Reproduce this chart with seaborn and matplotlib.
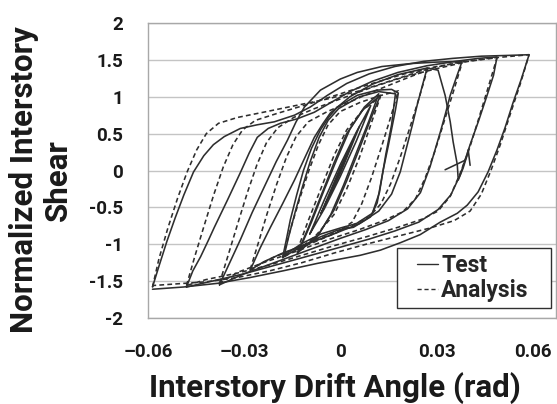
import pandas as pd
import seaborn as sns
import matplotlib.pyplot as plt
from matplotlib.lines import Line2D
from matplotlib.legend_handler import HandlerLine2D

# Axis ticks
y_ticks = [-2, -1.5, -1, -0.5, 0, 0.5, 1, 1.5, 2]
y_labels = ['-2', '-1.5', '-1', '-0.5', '0', '0.5', '1', '1.5', '2']
x_ticks = [-0.06, -0.03, 0, 0.03, 0.06]
x_labels = ['\u20130.06', '\u20130.03', '0', '0.03', '0.06']

# Test loops (drift in rad, normalized shear)
# each loop: positive-going branch then negative-going branch
test_06_drift = [-0.0586, -0.0566, -0.0541, -0.0515, -0.0488, -0.0458, -0.0426, -0.0396, -0.0362, -0.0312,
                 -0.0259, -0.0206, -0.0143, -0.0094, -0.0040, 0.0020, 0.0090, 0.0170, 0.0260, 0.0350,
                 0.0440, 0.0520, 0.0589, 0.0564, 0.0539, 0.0514, 0.0489, 0.0461, 0.0430, 0.0396,
                 0.0365, 0.0312, 0.0249, 0.0187, 0.0125, 0.0062, 0.0000, -0.0072, -0.0178, -0.0280,
                 -0.0383, -0.0490, -0.0586]
test_06_shear = [-1.58, -1.30, -0.96, -0.64, -0.33, -0.02, 0.20, 0.35, 0.46, 0.57,
                 0.62, 0.66, 0.75, 0.86, 1.02, 1.18, 1.31, 1.41, 1.48, 1.52,
                 1.55, 1.56, 1.57, 1.23, 0.92, 0.58, 0.28, -0.02, -0.29, -0.47,
                 -0.58, -0.70, -0.87, -0.98, -1.08, -1.15, -1.20, -1.26, -1.36, -1.45,
                 -1.53, -1.58, -1.61]

test_05_drift = [-0.0480, -0.0460, -0.0436, -0.0412, -0.0393, -0.0352, -0.0312, -0.0284, -0.0259, -0.0225,
                 -0.0187, -0.0135, -0.0081, -0.0030, 0.0030, 0.0100, 0.0180, 0.0270, 0.0360, 0.0430,
                 0.0489, 0.0478, 0.0458, 0.0432, 0.0405, 0.0374, 0.0345, 0.0305, 0.0245, 0.0170,
                 0.0090, 0.0000, -0.0100, -0.0200, -0.0300, -0.0400, -0.0480]
test_05_shear = [-1.58, -1.36, -1.17, -0.95, -0.77, -0.40, -0.03, 0.24, 0.45, 0.57,
                 0.64, 0.70, 0.79, 0.92, 1.07, 1.21, 1.33, 1.42, 1.48, 1.52,
                 1.54, 1.29, 1.02, 0.68, 0.35, -0.06, -0.33, -0.53, -0.70, -0.82,
                 -0.93, -1.04, -1.16, -1.28, -1.40, -1.50, -1.58]

test_04_drift = [-0.0377, -0.0345, -0.0312, -0.0275, -0.0237, -0.0200, -0.0165, -0.0138, -0.0112, -0.0062,
                 0.0000, 0.0053, 0.0130, 0.0220, 0.0300, 0.0380, 0.0362, 0.0343, 0.0328, 0.0312,
                 0.0280, 0.0250, 0.0210, 0.0150, 0.0080, 0.0000, -0.0100, -0.0200, -0.0300, -0.0377]
test_04_shear = [-1.55, -1.25, -0.94, -0.57, -0.22, 0.12, 0.41, 0.66, 0.86, 1.09,
                 1.24, 1.33, 1.41, 1.45, 1.47, 1.48, 1.26, 1.02, 0.77, 0.52,
                 0.05, -0.30, -0.52, -0.68, -0.80, -0.92, -1.08, -1.24, -1.40, -1.55]

test_03_drift = [-0.0281, -0.0250, -0.0218, -0.0180, -0.0143, -0.0110, -0.0081, -0.0055, -0.0031, 0.0030,
                 0.0100, 0.0180, 0.0271, 0.0256, 0.0240, 0.0225, 0.0209, 0.0187, 0.0160, 0.0120,
                 0.0060, -0.0020, -0.0100, -0.0180, -0.0240, -0.0281]
test_03_shear = [-1.35, -1.05, -0.77, -0.45, -0.13, 0.18, 0.45, 0.63, 0.78, 1.00,
                 1.17, 1.30, 1.39, 1.15, 0.89, 0.62, 0.35, -0.02, -0.32, -0.55,
                 -0.72, -0.86, -0.99, -1.12, -1.24, -1.35]

test_02_drift = [-0.0180, -0.0168, -0.0156, -0.0136, -0.0115, -0.0090, -0.0062, -0.0035, -0.0009, 0.0053,
                 0.0115, 0.0160, 0.0181, 0.0172, 0.0150, 0.0134, 0.0115, 0.0094, 0.0041, -0.0009,
                 -0.0062, -0.0125, -0.0180]
test_02_shear = [-1.18, -0.93, -0.67, -0.33, 0.00, 0.30, 0.55, 0.73, 0.86, 1.02,
                 1.09, 1.10, 1.05, 0.82, 0.34, 0.01, -0.44, -0.63, -0.77, -0.81,
                 -0.90, -1.04, -1.18]

test_02b_drift = [-0.0175, -0.0160, -0.0140, -0.0118, -0.0094, -0.0066, -0.0038, -0.0005, 0.0060, 0.0120,
                  0.0172, 0.0160, 0.0142, 0.0122, 0.0100, 0.0050, 0.0000, -0.0060, -0.0120, -0.0175]
test_02b_shear = [-1.15, -0.88, -0.55, -0.22, 0.12, 0.45, 0.68, 0.84, 1.00, 1.07,
                  1.04, 0.62, 0.22, -0.30, -0.58, -0.72, -0.78, -0.86, -0.99, -1.15]

test_01_drift = [-0.0134, -0.0100, -0.0060, -0.0020, 0.0020, 0.0070, 0.0125,
                 0.0095, 0.0060, 0.0020, -0.0020, -0.0070, -0.0134]
test_01_shear = [-1.12, -0.78, -0.34, 0.10, 0.50, 0.82, 1.02,
                 0.70, 0.30, -0.14, -0.54, -0.88, -1.12]

test_01b_drift = [-0.0128, -0.0090, -0.0050, -0.0010, 0.0030, 0.0075, 0.0120,
                  0.0090, 0.0050, 0.0010, -0.0030, -0.0075, -0.0128]
test_01b_shear = [-1.08, -0.70, -0.26, 0.16, 0.56, 0.86, 1.04,
                  0.68, 0.24, -0.20, -0.60, -0.92, -1.08]

test_0075_drift = [-0.0095, -0.0050, 0.0000, 0.0050, 0.0095, 0.0050, 0.0000, -0.0050, -0.0095]
test_0075_shear = [-0.86, -0.40, 0.08, 0.52, 0.88, 0.40, -0.08, -0.52, -0.86]

test_005_drift = [-0.0060, 0.0000, 0.0060, 0.0000, -0.0060]
test_005_shear = [-0.58, 0.04, 0.60, -0.04, -0.58]

test_0025_drift = [-0.0030, 0.0000, 0.0030, 0.0000, -0.0030]
test_0025_shear = [-0.32, 0.02, 0.32, -0.02, -0.32]

# odd excursion near +0.04 in the test record
test_spike_drift = [0.0271, 0.0305, 0.0327, 0.0343, 0.0352, 0.0365, 0.0368, 0.0383, 0.0396, 0.0399, 0.0405]
test_spike_shear = [1.39, 1.36, 1.02, 0.66, 0.39, 0.08, -0.13, 0.03, 0.21, 0.28, 0.07]
test_bar_drift = [0.0327, 0.0390]
test_bar_shear = [0.01, 0.14]

# Analysis loops
ana_06_drift = [-0.0586, -0.0566, -0.0538, -0.0508, -0.0478, -0.0448, -0.0418, -0.0380, -0.0320, -0.0240,
                -0.0140, -0.0040, 0.0060, 0.0160, 0.0260, 0.0360, 0.0460, 0.0589, 0.0562, 0.0530,
                0.0500, 0.0470, 0.0440, 0.0405, 0.0355, 0.0280, 0.0180, 0.0080, -0.0020, -0.0120,
                -0.0220, -0.0320, -0.0420, -0.0586]
ana_06_shear = [-1.58, -1.20, -0.78, -0.38, -0.02, 0.28, 0.50, 0.64, 0.72, 0.79,
                0.88, 0.97, 1.08, 1.22, 1.36, 1.46, 1.52, 1.57, 1.18, 0.76,
                0.36, 0.00, -0.32, -0.55, -0.68, -0.78, -0.89, -1.00, -1.12, -1.25,
                -1.36, -1.45, -1.51, -1.56]

ana_05_drift = [-0.0480, -0.0455, -0.0425, -0.0395, -0.0365, -0.0335, -0.0305, -0.0265, -0.0200, -0.0100,
                0.0000, 0.0100, 0.0200, 0.0300, 0.0400, 0.0489, 0.0463, 0.0433, 0.0403, 0.0373,
                0.0343, 0.0305, 0.0255, 0.0180, 0.0080, -0.0020, -0.0120, -0.0220, -0.0320, -0.0420,
                -0.0480]
ana_05_shear = [-1.56, -1.18, -0.75, -0.33, 0.05, 0.35, 0.55, 0.68, 0.77, 0.90,
                1.04, 1.18, 1.31, 1.41, 1.48, 1.53, 1.15, 0.72, 0.30, -0.05,
                -0.35, -0.55, -0.66, -0.77, -0.90, -1.02, -1.15, -1.28, -1.39, -1.48,
                -1.56]

ana_04_drift = [-0.0377, -0.0350, -0.0320, -0.0290, -0.0260, -0.0230, -0.0195, -0.0145, -0.0080, 0.0000,
                0.0100, 0.0200, 0.0300, 0.0380, 0.0355, 0.0325, 0.0295, 0.0265, 0.0235, 0.0195,
                0.0135, 0.0060, -0.0040, -0.0140, -0.0240, -0.0320, -0.0377]
ana_04_shear = [-1.53, -1.15, -0.72, -0.30, 0.08, 0.38, 0.58, 0.72, 0.84, 0.97,
                1.13, 1.27, 1.38, 1.46, 1.10, 0.68, 0.26, -0.10, -0.38, -0.56,
                -0.68, -0.80, -0.94, -1.10, -1.25, -1.38, -1.53]

ana_03_drift = [-0.0281, -0.0257, -0.0228, -0.0198, -0.0168, -0.0138, -0.0100, -0.0040, 0.0040, 0.0120,
                0.0200, 0.0271, 0.0247, 0.0217, 0.0187, 0.0157, 0.0127, 0.0090, 0.0030, -0.0050,
                -0.0130, -0.0210, -0.0281]
ana_03_shear = [-1.34, -1.00, -0.58, -0.18, 0.18, 0.46, 0.66, 0.80, 0.95, 1.10,
                1.24, 1.36, 1.00, 0.58, 0.18, -0.18, -0.45, -0.63, -0.76, -0.90,
                -1.04, -1.18, -1.34]

ana_02_drift = [-0.0180, -0.0157, -0.0128, -0.0098, -0.0068, -0.0038, 0.0000, 0.0060, 0.0120, 0.0181,
                0.0157, 0.0127, 0.0097, 0.0067, 0.0037, -0.0010, -0.0070, -0.0130, -0.0180]
ana_02_shear = [-1.18, -0.82, -0.40, 0.00, 0.35, 0.62, 0.80, 0.92, 1.01, 1.08,
                0.72, 0.30, -0.10, -0.45, -0.70, -0.84, -0.95, -1.06, -1.18]

ana_01_drift = [-0.0134, -0.0100, -0.0060, -0.0020, 0.0020, 0.0070, 0.0125,
                0.0095, 0.0060, 0.0020, -0.0020, -0.0080, -0.0134]
ana_01_shear = [-1.08, -0.68, -0.24, 0.20, 0.55, 0.82, 1.00,
                0.62, 0.18, -0.25, -0.60, -0.90, -1.08]

test_loops = [(test_0025_drift, test_0025_shear), (test_005_drift, test_005_shear),
              (test_0075_drift, test_0075_shear), (test_01_drift, test_01_shear),
              (test_01b_drift, test_01b_shear),
              (test_02_drift, test_02_shear), (test_02b_drift, test_02b_shear),
              (test_03_drift, test_03_shear), (test_04_drift, test_04_shear),
              (test_05_drift, test_05_shear), (test_06_drift, test_06_shear),
              (test_spike_drift, test_spike_shear), (test_bar_drift, test_bar_shear)]
ana_loops = [(ana_01_drift, ana_01_shear), (ana_02_drift, ana_02_shear),
             (ana_03_drift, ana_03_shear), (ana_04_drift, ana_04_shear),
             (ana_05_drift, ana_05_shear), (ana_06_drift, ana_06_shear)]

frames = []
for name, loops in [('Test', test_loops), ('Analysis', ana_loops)]:
    for i, (dx, sh) in enumerate(loops):
        frames.append(pd.DataFrame({'drift': dx, 'shear': sh,
                                    'series': name, 'loop': f'{name}{i}'}))
df = pd.concat(frames, ignore_index=True)


# legend line only on the right part of the handle box, like the original
class ShortLine(HandlerLine2D):
    def get_xdata(self, legend, xdescent, ydescent, width, height, fontsize):
        xdata = [-xdescent + 0.4 * width, -xdescent + width]
        return xdata, xdata


sns.set_style('white')
plt.rcParams['font.family'] = ['Roboto', 'DejaVu Sans']
plt.rcParams['font.weight'] = 'bold'

fig = plt.figure(figsize=(5.57, 4.04), dpi=100)
ax = fig.add_axes([148 / 557, 1 - 318 / 404, 408 / 557, 295 / 404])

ink = '#2e2e2e'
sns.lineplot(data=df, x='drift', y='shear', style='series', units='loop',
             estimator=None, sort=False, color=ink, linewidth=1.15,
             style_order=['Test', 'Analysis'],
             dashes={'Test': '', 'Analysis': (3, 2)}, ax=ax)

ax.set_xlim(-0.06, 0.0673)
ax.set_ylim(-2, 2)
ax.set_yticks(y_ticks)
ax.set_yticklabels(y_labels, fontsize=13.5, fontweight='bold')
ax.set_xticks(x_ticks)
ax.set_xticklabels(x_labels, fontsize=13.5, fontweight='bold')
ax.tick_params(axis='both', length=0, colors='#1a1a1a')
ax.tick_params(axis='y', pad=18)
ax.tick_params(axis='x', pad=18)
ax.yaxis.grid(True, color='#c4c4c4', linewidth=1.0)
ax.xaxis.grid(False)
for s in ax.spines.values():
    s.set_color('#a8a8a8')
    s.set_linewidth(1.0)

ax.set_xlabel('Interstory Drift Angle (rad)', fontsize=22.5, fontweight='bold',
              color='#1a1a1a', va='bottom')
ax.xaxis.set_label_coords(0.458, -0.29)
ax.set_ylabel('Normalized Interstory\nShear', fontsize=22.5, fontweight='bold',
              color='#1a1a1a', va='center', linespacing=1.15)
ax.yaxis.set_label_coords(-0.262, 0.468)

handles, labels = ax.get_legend_handles_labels()
for h in handles:
    h.set_color(ink)
    h.set_linewidth(1.0)
leg = ax.legend(handles, labels, loc='lower left', mode='expand',
                bbox_to_anchor=(249 / 408, 10 / 295, 154 / 408, 63 / 295),
                borderaxespad=0, fancybox=False, framealpha=1,
                edgecolor='#303030', prop={'size': 16.5, 'weight': 'bold'},
                handlelength=1.55, handletextpad=0.12, labelspacing=0.12,
                borderpad=0.25, handler_map={Line2D: ShortLine()})
leg.get_frame().set_linewidth(1.0)

fig.savefig('out.png', dpi=100)
